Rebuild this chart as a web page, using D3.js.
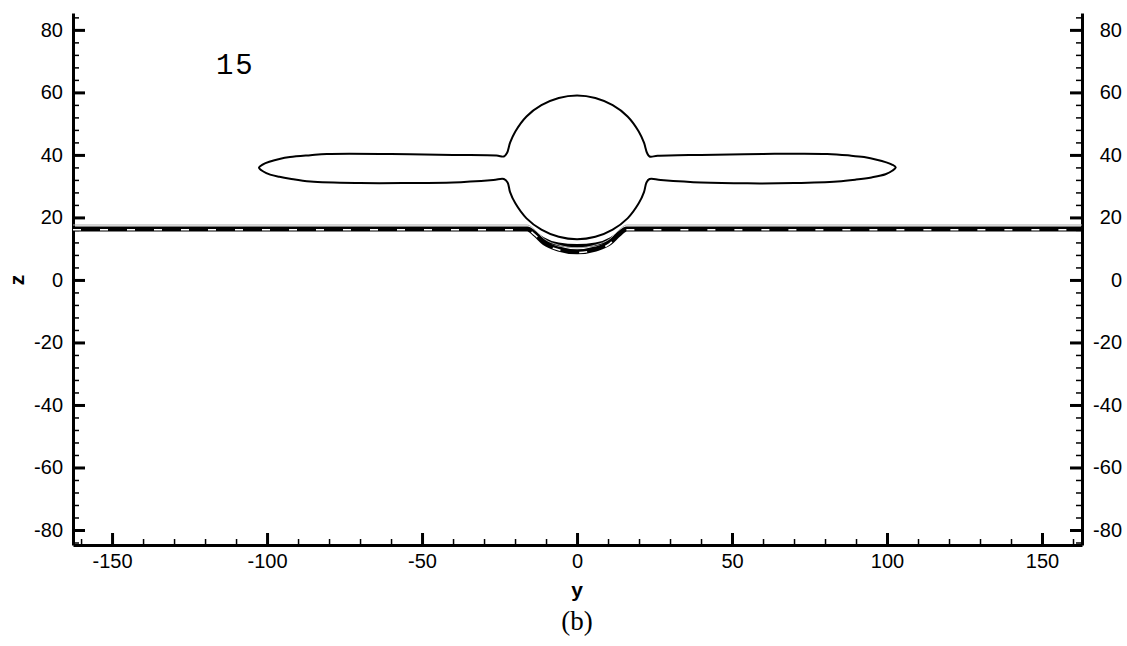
<!DOCTYPE html>
<html>
<head>
<meta charset="utf-8">
<script src="https://cdn.jsdelivr.net/npm/d3@7"></script>
<style>
  body { margin: 0; background: #fff; }
  svg { display: block; }
  .ejes text { font-family: "Liberation Sans", Arial, sans-serif; font-size: 20px; fill: #000; }
  .ejes path.domain { stroke: #000; stroke-width: 3; }
  .ejes .tick line { stroke: #000; stroke-width: 3; }
  .menores .tick line { stroke: #000; stroke-width: 1.5; }
  .menores path.domain { display: none; }
</style>
</head>
<body>
<div id="graf"></div>
<script>
// ---- datos ----
const ticksY = [-80, -60, -40, -20, 0, 20, 40, 60, 80]
const ticksYmenores = [-84, -76, -72, -68, -64, -56, -52, -48, -44, -36, -32, -28, -24, -16, -12, -8, -4,
  4, 8, 12, 16, 24, 28, 32, 36, 44, 48, 52, 56, 64, 68, 72, 76, 84]
const ticksX = [-150, -100, -50, 0, 50, 100, 150]
const ticksXmenores = [-160, -140, -130, -120, -110, -90, -80, -70, -60, -40, -30, -20, -10,
  10, 20, 30, 40, 60, 70, 80, 90, 110, 120, 130, 140, 160]

// contorno de la burbuja con las dos alas (y, z)
const contorno = [
  [0, 59], [5.9, 58.2], [11.5, 55.9], [16.3, 52.3], [19.9, 47.5], [21.6, 43.9], [22.6, 40.6], [23.4, 39.5],
  [26, 39.7], [40, 40.0], [60, 40.3], [80.7, 40.3], [88, 39.8], [92.6, 39.3], [97, 38.4], [99.5, 37.7], [101.6, 36.9], [102.8, 36],
  [101.8, 35], [99.5, 33.8], [95, 32.8], [90, 32.1], [84, 31.5], [70, 31.0], [55, 30.9], [40, 31.2], [27, 32.0], [23.4, 32.3],
  [22.4, 31.2], [21.6, 28.1], [19.9, 24.5], [16.3, 19.7], [11.5, 16.1], [5.9, 13.8], [0, 13],
  [-5.9, 13.8], [-11.5, 16.1], [-16.3, 19.7], [-19.9, 24.5], [-21.6, 28.1], [-22.4, 31.2], [-23.6, 32.3],
  [-27, 32.0], [-40, 31.2], [-55, 31.0], [-70, 31.0], [-86, 31.5], [-92.6, 32.4], [-96, 33.0], [-99, 33.7], [-101.2, 34.7], [-102.6, 35.9],
  [-101.3, 37.0], [-99, 37.9], [-96, 38.7], [-92.6, 39.3], [-86, 39.9], [-80.7, 40.3], [-60, 40.3], [-40, 40.0], [-26, 39.8], [-23.6, 39.5],
  [-22.6, 40.6], [-21.6, 43.9], [-19.9, 47.5], [-16.3, 52.3], [-11.5, 55.9], [-5.9, 58.2]
]

// superficie libre (linea a trazos) con la depresion bajo la burbuja
const superficie = [
  [-162.6, 16.3], [-16, 16.3], [-13.5, 14.6], [-10.5, 11.8], [-6, 9.9], [0, 9.0], [6, 9.9], [10.5, 11.8], [13.5, 14.6], [16, 16.3], [162.9, 16.3]
]
// pelicula interior de la depresion
const pelicula = [
  [-14.5, 15.8], [-11, 13.2], [-6, 11.4], [0, 10.9], [6, 11.4], [11, 13.2], [14.5, 15.8]
]

const etiqueta = "15"
const etiquetaPos = [-116.5, 66]

// ---- tamaños ----
const anchoTotal = 1127
const altoTotal = 646
const margins = { left: 73, top: 13, right: 45, bottom: 101 }
const ancho = anchoTotal - margins.left - margins.right
const alto = altoTotal - margins.top - margins.bottom

const svg = d3.select("#graf")
  .append("svg")
  .attr("width", anchoTotal)
  .attr("height", altoTotal)

const g = svg.append("g")
  .attr("transform", `translate(${margins.left}, ${margins.top})`)

const X = d3.scaleLinear().domain([-162.6, 162.9]).range([0, ancho])
const Y = d3.scaleLinear().domain([-84.8, 85.4]).range([alto, 0])

// ---- ejes menores ----
g.append("g").attr("class", "menores")
  .attr("transform", `translate(0, ${alto})`)
  .call(d3.axisBottom(X).tickValues(ticksXmenores).tickSize(-6).tickFormat(""))
g.append("g").attr("class", "menores")
  .call(d3.axisLeft(Y).tickValues(ticksYmenores).tickSize(-6).tickFormat(""))
g.append("g").attr("class", "menores")
  .attr("transform", `translate(${ancho}, 0)`)
  .call(d3.axisRight(Y).tickValues(ticksYmenores).tickSize(-6).tickFormat(""))

// ---- ejes mayores ----
g.append("g").attr("class", "ejes")
  .attr("transform", `translate(0, ${alto})`)
  .call(d3.axisBottom(X).tickValues(ticksX).tickSize(-12).tickSizeOuter(0).tickPadding(9).tickFormat(d3.format("d")))

g.append("g").attr("class", "ejes")
  .call(d3.axisLeft(Y).tickValues(ticksY).tickSize(-12).tickSizeOuter(0).tickPadding(10).tickFormat(d3.format("d")))

const ejeDer = g.append("g").attr("class", "ejes")
  .attr("transform", `translate(${ancho}, 0)`)
  .call(d3.axisRight(Y).tickValues(ticksY).tickSize(-12).tickSizeOuter(0).tickFormat(d3.format("d")))
ejeDer.selectAll("text").attr("x", 40).attr("text-anchor", "end")

// d3 usa el signo menos unicode; la figura usa guion
g.selectAll(".ejes text").text(function () { return this.textContent.replace("\u2212", "-") })

// ---- superficie libre ----
const lineaSup = d3.line().x(d => X(d[0])).y(d => Y(d[1])).curve(d3.curveMonotoneX)
g.append("path").attr("d", lineaSup(superficie))
  .attr("fill", "none").attr("stroke", "#000").attr("stroke-width", 5)
g.append("path").attr("d", lineaSup(pelicula))
  .attr("fill", "none").attr("stroke", "#000").attr("stroke-width", 3.5)
g.append("path").attr("d", lineaSup(superficie))
  .attr("fill", "none").attr("stroke", "#fff").attr("stroke-width", 1.6)
  .attr("stroke-dasharray", "8 19").attr("transform", "translate(0, 0.8)")
g.append("path").attr("d", lineaSup(superficie))
  .attr("fill", "none").attr("stroke", "#aaa").attr("stroke-width", 1)
  .attr("transform", "translate(0, -4)")

// ---- burbuja ----
const lineaBur = d3.line().x(d => X(d[0])).y(d => Y(d[1])).curve(d3.curveCatmullRomClosed.alpha(0.5))
g.append("path").attr("d", lineaBur(contorno))
  .attr("fill", "none").attr("stroke", "#000").attr("stroke-width", 2)

// ---- textos ----
g.append("text")
  .attr("x", X(etiquetaPos[0])).attr("y", Y(etiquetaPos[1]))
  .attr("font-family", "'Liberation Mono', 'DejaVu Sans Mono', monospace")
  .attr("font-size", 29).attr("letter-spacing", 2)
  .text(etiqueta)

g.append("text")
  .attr("x", X(0)).attr("y", alto + 52)
  .attr("text-anchor", "middle")
  .attr("font-family", "'Liberation Sans', Arial, sans-serif")
  .attr("font-size", 21).attr("font-weight", "bold")
  .text("y")

g.append("text")
  .attr("transform", `translate(${-49}, ${Y(0)}) rotate(-90)`)
  .attr("text-anchor", "middle")
  .attr("font-family", "'Liberation Sans', Arial, sans-serif")
  .attr("font-size", 21).attr("font-weight", "bold")
  .text("z")

g.append("text")
  .attr("x", X(0)).attr("y", alto + 85)
  .attr("text-anchor", "middle")
  .attr("font-family", "'Liberation Serif', 'Times New Roman', serif")
  .attr("font-size", 27)
  .text("(b)")
</script>
</body>
</html>
